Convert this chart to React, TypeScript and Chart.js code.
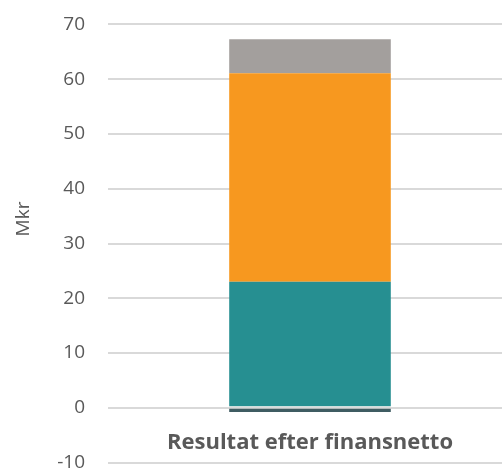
import React, { useEffect, useRef } from "react";
import { Chart, registerables } from "chart.js";

Chart.register(...registerables);

const categories = ["Resultat efter finansnetto"];
const seriesDark = [-0.75];
const seriesLight = [0.3];
const seriesTeal = [22.7];
const seriesOrange = [38.1];
const seriesGray = [6.2];
const yTicks = [-10, 0, 10, 20, 30, 40, 50, 60, 70];
const yTitle = "Mkr";

const FONT = "'Open Sans', 'DejaVu Sans', sans-serif";
const TEXT = "#595959";
const SHIFT = 10;

const yTitlePlugin = {
  id: "yTitle",
  afterDraw(chart: any) {
    const c = chart.ctx;
    c.save();
    c.translate(24, 219 + SHIFT);
    c.rotate(-Math.PI / 2);
    c.fillStyle = TEXT;
    c.font = `19px ${FONT}`;
    c.textAlign = "center";
    c.textBaseline = "middle";
    c.fillText(yTitle, 0, 0);
    c.restore();
  },
};

export default function App() {
  const ref = useRef<HTMLCanvasElement | null>(null);
  useEffect(() => {
    const ctx = ref.current!;
    const chart = new Chart(ctx, {
      type: "bar",
      data: {
        labels: categories,
        datasets: [
          { label: "a", data: seriesDark, backgroundColor: "#3f5c62" },
          { label: "b", data: seriesLight, backgroundColor: "#d3dcdc" },
          { label: "c", data: seriesTeal, backgroundColor: "#268f91" },
          { label: "d", data: seriesOrange, backgroundColor: "#f7981f" },
          { label: "e", data: seriesGray, backgroundColor: "#a39f9d" },
        ],
      },
      options: {
        animation: false,
        responsive: false,
        maintainAspectRatio: false,
        datasets: { bar: { categoryPercentage: 1, barPercentage: 0.4 } },
        layout: { padding: 0 },
        plugins: { legend: { display: false }, tooltip: { enabled: false } },
        scales: {
          x: {
            stacked: true,
            position: { y: 0 } as any,
            afterFit: (s: any) => { s.height = 0; },
            grid: { display: false },
            border: { display: false },
            ticks: {
              color: TEXT,
              padding: 14,
              font: { family: FONT, size: 22, weight: "bold" },
            },
          },
          y: {
            stacked: true,
            min: -10,
            max: 70,
            afterBuildTicks: (s: any) => { s.ticks = yTicks.map((v) => ({ value: v })); },
            afterFit: (s: any) => { s.width = 108; },
            grid: { color: "#d9d9d9", lineWidth: 2, drawTicks: false },
            border: { display: false },
            ticks: {
              color: TEXT,
              padding: 23,
              font: { family: FONT, size: 19 },
            },
          },
        },
      },
      plugins: [yTitlePlugin],
    });
    return () => chart.destroy();
  }, []);
  return (
    <div style={{ position: "fixed", left: 0, top: 0, width: 502, height: 472, overflow: "hidden", background: "#fff" }}>
      <canvas ref={ref} width={512} height={507} style={{ display: "block", position: "absolute", left: 0, top: -SHIFT }} />
    </div>
  );
}
